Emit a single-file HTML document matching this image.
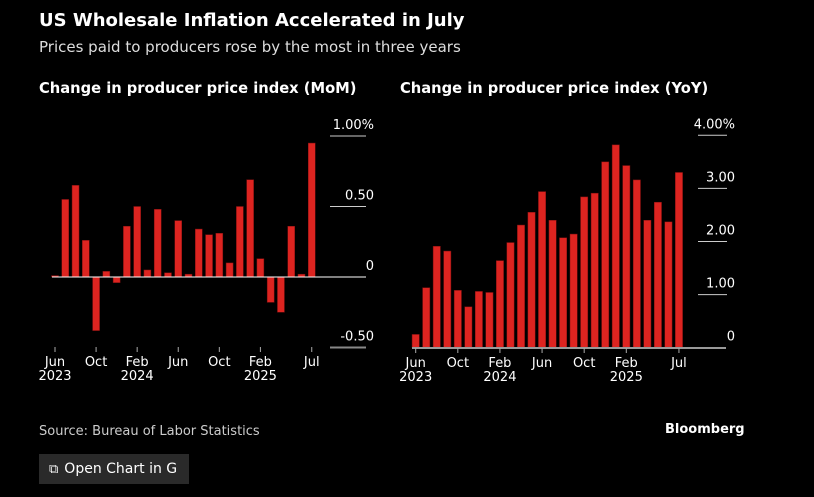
<!DOCTYPE html>
<html><head><meta charset="utf-8"><style>
body{margin:0;background:#000;width:814px;height:497px;overflow:hidden;font-family:"DejaVu Sans",sans-serif;color:#fff}
.t{position:absolute;white-space:nowrap}
</style></head><body>
<div class="t" style="left:39px;top:10px;font-size:18px;font-weight:bold">US Wholesale Inflation Accelerated in July</div>
<div class="t" style="left:39px;top:38px;font-size:15px;color:#ddd">Prices paid to producers rose by the most in three years</div>
<div class="t" style="left:39px;top:80px;font-size:14.7px;font-weight:bold">Change in producer price index (MoM)</div>
<div class="t" style="left:400px;top:80px;font-size:14.7px;font-weight:bold">Change in producer price index (YoY)</div>
<svg id="c" width="814" height="497" style="position:absolute;left:0;top:0"></svg>
<div class="t" style="left:39px;top:424px;font-size:13px;color:#ccc">Source: Bureau of Labor Statistics</div>
<div class="t" style="left:665px;top:422px;font-size:13px;font-weight:bold">Bloomberg</div>
<div class="t" style="left:39px;top:454px;width:150px;height:30px;background:#2a2a2a;font-size:14px;line-height:30px"><span style="margin-left:10px;font-size:13px">⧉</span><span style="margin-left:6px">Open Chart in G</span></div>
<script>
const months=["Jun","Jul","Aug","Sep","Oct","Nov","Dec","Jan","Feb","Mar","Apr","May","Jun","Jul","Aug","Sep","Oct","Nov","Dec","Jan","Feb","Mar","Apr","May","Jun","Jul"];
const momValues=[0.01,0.55,0.65,0.26,-0.38,0.04,-0.04,0.36,0.50,0.05,0.48,0.03,0.40,0.02,0.34,0.30,0.31,0.10,0.50,0.69,0.13,-0.18,-0.25,0.36,0.02,0.95];
const yoyValues=[0.25,1.13,1.91,1.82,1.08,0.77,1.06,1.04,1.64,1.98,2.31,2.55,2.94,2.40,2.07,2.14,2.84,2.91,3.50,3.82,3.43,3.16,2.40,2.74,2.37,3.30];
const momTicks=[-0.5,0,0.5,1];
const momTickLabels=["-0.50","0","0.50","1.00%"];
const yoyTicks=[0,1,2,3,4];
const yoyTickLabels=["0","1.00","2.00","3.00","4.00%"];
const xTickIdx=[0,4,8,12,16,20,25];
const xTickLabels=["Jun","Oct","Feb","Jun","Oct","Feb","Jul"];
const xYearLabels=["2023","","2024","","","2025",""];
const svg=document.getElementById('c');const NS='http://www.w3.org/2000/svg';
function mk(t,a,name){const e=document.createElementNS(NS,t);for(const k in a)e.setAttribute(k,a[k]);


svg.appendChild(e);return e;}
function panel(p){
 const x=i=>p.x0+i*p.step, y=v=>p.zero-v*p.scale;
 p.ticks.forEach((t,i)=>{
  if(t!==0||p.gridZero){mk('line',{x1:p.gx1,x2:p.gx2,y1:y(t),y2:y(t),stroke:t===p.ticks[0]&&p.minGrey?'#888':'#ccc','stroke-width':t===p.ticks[0]&&p.minGrey?2:1},p.id+'-gridline');}
  const tx=mk('text',{x:p.lx,y:y(t)-7,fill:'#fff','font-size':13,'text-anchor':'end','font-family':'DejaVu Sans'},p.id+'-y-tick-label');tx.textContent=p.tickLabels[i];
 });
 p.vals.forEach((v,i)=>{mk('rect',{x:x(i)-p.bw/2,y:Math.min(y(v),y(0)),width:p.bw,height:Math.abs(y(v)-y(0)),fill:'#dd2420',stroke:'#7a1010','stroke-width':0.5},p.id+'-bar');});
 mk('line',{x1:p.ax1,x2:p.ax2,y1:p.axisY,y2:p.axisY,stroke:p.axisCol,'stroke-width':p.axisW},p.id+'-x-axis');
 xTickIdx.forEach((m,k)=>{
  mk('line',{x1:x(m),x2:x(m),y1:p.tickY,y2:p.tickY+5,stroke:'#aaa'},p.id+'-x-tick');
  const a=mk('text',{x:x(m),y:p.tickY+19,fill:'#fff','font-size':13,'text-anchor':'middle','font-family':'DejaVu Sans'},p.id+'-x-tick-label');a.textContent=xTickLabels[k];
  if(xYearLabels[k]){const b=mk('text',{x:x(m),y:p.tickY+33,fill:'#fff','font-size':13,'text-anchor':'middle','font-family':'DejaVu Sans'},p.id+'-x-year-label');b.textContent=xYearLabels[k];}
 });
}
panel({id:'mom',vals:momValues,ticks:momTicks,tickLabels:momTickLabels,x0:55,step:10.27,bw:7,zero:277,scale:141,gx1:330,gx2:366,lx:374,gridZero:false,minGrey:true,ax1:52,ax2:366,axisY:277,axisCol:'#fff',axisW:1,tickY:347});
panel({id:'yoy',vals:yoyValues,ticks:yoyTicks,tickLabels:yoyTickLabels,x0:415.7,step:10.53,bw:7.3,zero:347.7,scale:53.1,gx1:698,gx2:727,lx:735,gridZero:false,minGrey:false,ax1:412,ax2:726,axisY:348,axisCol:'#999',axisW:2,tickY:348});
</script>
</body></html>
